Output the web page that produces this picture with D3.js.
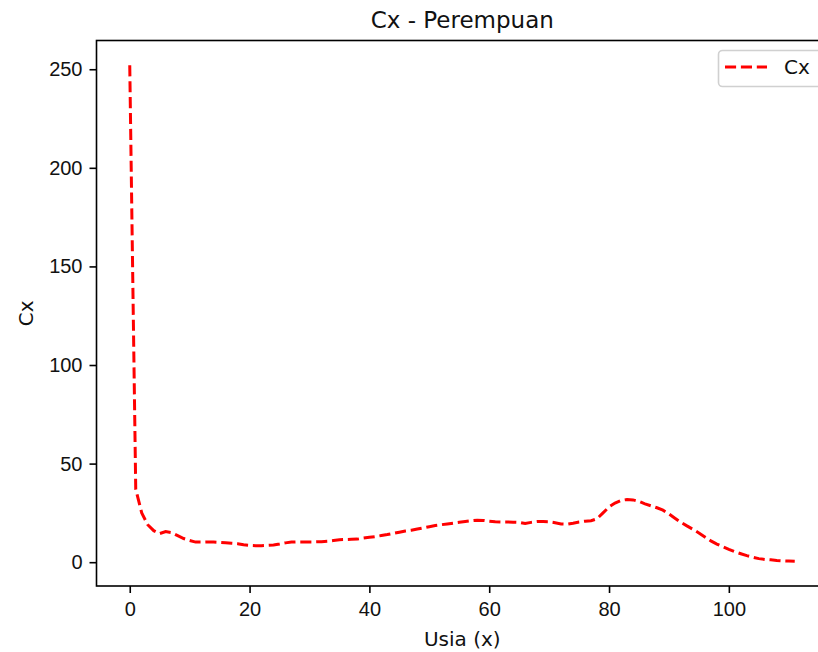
<!DOCTYPE html>
<html>
<head>
<meta charset="utf-8">
<script src="https://cdn.jsdelivr.net/npm/d3@7"></script>
<style>
    body { margin: 0; background: #fff; }
    svg { display: block; font-family: "DejaVu Sans", sans-serif; }
</style>
</head>
<body>
<div id="figure"></div>
<script>
// ages 0..111 and Cx values
var ages = d3.range(0, 112);
var cx = [
    252, 37, 25, 19, 16, 14.5, 15.5, 15, 13.5, 12,
    11, 10.2, 10.2, 10.3, 10.2, 10, 9.8, 9.6, 9.4, 8.8,
    8.5, 8.4, 8.4, 8.5, 8.7, 9.2, 9.8, 10.2, 10.3, 10.3,
    10.3, 10.3, 10.4, 10.6, 11, 11.4, 11.5, 11.6, 11.7, 12.2,
    12.6, 13, 13.5, 14, 14.6, 15.2, 15.8, 16.2, 16.8, 17.4,
    18, 18.6, 19, 19.4, 19.8, 20.2, 20.6, 21, 21.3, 21.2,
    20.8, 20.5, 20.4, 20.4, 20.3, 20.2, 19.6, 20.2, 20.6, 20.6,
    20.5, 20, 19.4, 19.3, 19.8, 20.4, 20.8, 21, 22, 25,
    28, 30, 31.3, 31.8, 31.6, 30.8, 29.6, 28.6, 27.6, 26.4,
    24.5, 22.3, 20.2, 18.4, 16.7, 14.8, 12.8, 10.8, 9.2, 7.8,
    6.5, 5.3, 4.3, 3.3, 2.5, 1.8, 1.4, 1.2, 0.9, 0.7,
    0.6, 0.5
];
var xTicks = [0, 20, 40, 60, 80, 100];
var yTicks = [0, 50, 100, 150, 200, 250];
var titleText = "Cx - Perempuan";
var xLabel = "Usia (x)";
var yLabel = "Cx";
var seriesName = "Cx";

var data = ages.map(function(a, i) { return { age: a, val: cx[i] }; });

var w = 818;
var h = 652;
// plot box (right edge lies past the picture, as in the original)
var boxL = 96.5, boxT = 40.5, boxR = 828, boxB = 586;
var textCol = "#111";

var svg = d3.select("#figure")
    .append("svg")
    .attr("width", w)
    .attr("height", h);

// matplotlib style 5% margins
var xMin = d3.min(ages), xMax = d3.max(ages);
var xPad = (xMax - xMin) * 0.05;
var yMin = d3.min(cx), yMax = d3.max(cx);
var yPad = (yMax - yMin) * 0.05;

var xScale = d3.scaleLinear()
    .domain([xMin - xPad, xMax + xPad])
    .range([boxL, boxR]);

var yScale = d3.scaleLinear()
    .domain([yMin - yPad, yMax + yPad])
    .range([boxB, boxT]);

// line
svg.append("path")
    .datum(data)
    .attr("fill", "none")
    .attr("stroke", "#ff0000")
    .attr("stroke-width", 3)
    .attr("stroke-dasharray", "11.1,4.8")
    .attr("d", d3.line()
        .x(function(d) { return xScale(d.age); })
        .y(function(d) { return yScale(d.val); }));

// axes
var xAxis = d3.axisBottom(xScale)
    .tickValues(xTicks)
    .tickSize(7)
    .tickPadding(7);

var gx = svg.append("g")
    .attr("transform", "translate(0," + boxB + ")")
    .call(xAxis);
gx.select(".domain").remove();
gx.selectAll("line").attr("stroke", "#000").attr("stroke-width", 1.6);
gx.selectAll("text").style("font-size", "20px").attr("fill", textCol).attr("dy", "0.71em").attr("y", 16);

var yAxis = d3.axisLeft(yScale)
    .tickValues(yTicks)
    .tickSize(7)
    .tickPadding(7);

var gy = svg.append("g")
    .attr("transform", "translate(" + boxL + ",0)")
    .call(yAxis);
gy.select(".domain").remove();
gy.selectAll("line").attr("stroke", "#000").attr("stroke-width", 1.6);
gy.selectAll("text").style("font-size", "20px").attr("fill", textCol);

// frame
svg.append("rect")
    .attr("x", boxL)
    .attr("y", boxT)
    .attr("width", boxR - boxL)
    .attr("height", boxB - boxT)
    .attr("fill", "none")
    .attr("stroke", "#000")
    .attr("stroke-width", 1.6);

// title and labels
svg.append("text")
    .attr("x", (boxL + boxR) / 2)
    .attr("y", 28)
    .attr("text-anchor", "middle")
    .style("font-size", "23px")
    .attr("fill", textCol)
    .text(titleText);

svg.append("text")
    .attr("x", (boxL + boxR) / 2)
    .attr("y", 646)
    .attr("text-anchor", "middle")
    .style("font-size", "20px")
    .attr("fill", textCol)
    .text(xLabel);

svg.append("text")
    .attr("transform", "translate(33," + ((boxT + boxB) / 2) + ") rotate(-90)")
    .attr("text-anchor", "middle")
    .style("font-size", "20px")
    .attr("fill", textCol)
    .text(yLabel);

// legend (cut by the right edge like the original)
var legend = svg.append("g");
legend.append("rect")
    .attr("x", 718.5)
    .attr("y", 50.5)
    .attr("width", 103)
    .attr("height", 36)
    .attr("rx", 4)
    .attr("fill", "#fff")
    .attr("fill-opacity", 0.8)
    .attr("stroke", "#d0d0d0")
    .attr("stroke-width", 1.6);
legend.append("line")
    .attr("x1", 725)
    .attr("x2", 767)
    .attr("y1", 67)
    .attr("y2", 67)
    .attr("stroke", "#ff0000")
    .attr("stroke-width", 3)
    .attr("stroke-dasharray", "11.1,4.8");
legend.append("text")
    .attr("x", 784)
    .attr("y", 74)
    .style("font-size", "20px")
    .attr("fill", textCol)
    .text(seriesName);
</script>
</body>
</html>
